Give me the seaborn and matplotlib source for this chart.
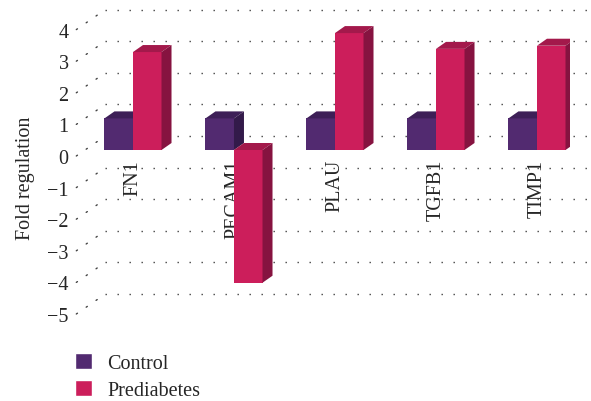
import numpy as np
import pandas as pd
import seaborn as sns
import matplotlib.pyplot as plt
from matplotlib.patches import Polygon, ConnectionPatch

# data
genes = ['FN1', 'PECAM1', 'PLAU', 'TGFB1', 'TIMP1']
groups = ['Control', 'Prediabetes']
control = [1.0, 1.0, 1.0, 1.0, 1.0]
prediabetes = [3.1, -4.2, 3.7, 3.2, 3.3]
yticks = list(range(4, -6, -1))

front_cols = {'Control': '#522a70', 'Prediabetes': '#cc1e5b'}
top_cols = {'Control': '#3d1f57', 'Prediabetes': '#a3194b'}
side_cols = {'Control': '#331a4a', 'Prediabetes': '#861340'}

df = pd.DataFrame({'gene': genes * 2,
                   'group': np.repeat(groups, len(genes)),
                   'fold': control + prediabetes})

sns.set_theme(style='white')
serif = ['Liberation Serif', 'DejaVu Serif']
plt.rcParams['font.family'] = serif
plt.rcParams['font.size'] = 14.5

W, H = 591, 402
fig = plt.figure(figsize=(W / 100, H / 100), dpi=100)

# pseudo-3D: three planes (front ticks, bars, back wall) shifted in pixels
left, right, top, bottom = 85, 570, 8.8, 324.8
xlim = (-0.475, 4.327)
ylim = (-5.5, 4.5)


def rect(dx, dy):
    return [(left + dx) / W, (H - bottom - dy) / H, (right - left) / W, (bottom - top) / H]


ax_back = fig.add_axes(rect(20.3, -14))
ax_bar = fig.add_axes(rect(0, 0))
ax_front = fig.add_axes(rect(-8.7, 6))
for a in (ax_back, ax_bar, ax_front):
    a.set_xlim(*xlim)
    a.set_ylim(*ylim)
    a.patch.set_alpha(0)
    for s in a.spines.values():
        s.set_visible(False)

dots = dict(color='#444444', linewidth=1.0, linestyle=(0, (1, 7.64)))

# back wall grid
ax_back.set_yticks(yticks)
ax_back.set_xticks([])
ax_back.grid(axis='y', **dots)
ax_back.tick_params(left=False, labelleft=False)

# left wall diagonals
for v in yticks:
    con = ConnectionPatch(xyA=(xlim[0], v), coordsA=ax_front.transData,
                          xyB=(xlim[0], v), coordsB=ax_back.transData, **dots)
    fig.add_artist(con)

# front plane: y ticks and label
ax_front.set_yticks(yticks)
ax_front.set_xticks([])
ax_front.tick_params(axis='y', length=0, pad=5.5, labelsize=14.5)
ax_front.set_ylabel('Fold regulation', fontsize=14.5, labelpad=9)
ax_front.yaxis.label.set_y(0.483)

# bars
sns.barplot(data=df, x='gene', y='fold', hue='group', hue_order=groups,
            palette=front_cols, width=0.565, saturation=1, ax=ax_bar)
ax_bar.set_xlim(*xlim)
ax_bar.set_ylim(*ylim)
ax_bar.set_xlabel('')
ax_bar.set_ylabel('')
ax_bar.set_yticks([])
ax_bar.spines['bottom'].set_position(('data', 0))
ax_bar.tick_params(axis='x', length=0, pad=6.5, labelsize=14.5, labelrotation=90)

px_x = (right - left) / (xlim[1] - xlim[0])
px_y = (bottom - top) / (ylim[1] - ylim[0])
ddx, ddy = 10 / px_x, 7 / px_y

for k, (grp, cont) in enumerate(zip(groups, ax_bar.containers)):
    for p in cont.patches:
        p.set_zorder(2 + k)
        p.set_edgecolor('none')
        x0, w = p.get_x(), p.get_width()
        y0, h = p.get_y(), p.get_height()
        t, b = max(y0, y0 + h), min(y0, y0 + h)
        topf = Polygon([(x0, t), (x0 + w, t), (x0 + w + ddx, t + ddy), (x0 + ddx, t + ddy)],
                       closed=True, facecolor=top_cols[grp], edgecolor='none', zorder=2 + k)
        side = Polygon([(x0 + w, b), (x0 + w, t), (x0 + w + ddx, t + ddy), (x0 + w + ddx, b + ddy)],
                       closed=True, facecolor=side_cols[grp], edgecolor='none', zorder=2 + k)
        ax_bar.add_patch(topf)
        ax_bar.add_patch(side)

sns.move_legend(ax_bar, 'upper left', bbox_to_anchor=(75 / W, 1 - 354 / H),
                bbox_transform=fig.transFigure, frameon=False, title=None,
                fontsize=14.5, handlelength=0.85, handleheight=0.85,
                handletextpad=0.75, labelspacing=0.35, borderpad=0, borderaxespad=0)
for txt in ax_bar.get_legend().get_texts():
    txt.set_fontfamily(serif)
    txt.set_fontsize(14.5)

fig.savefig('out.png', dpi=100)
